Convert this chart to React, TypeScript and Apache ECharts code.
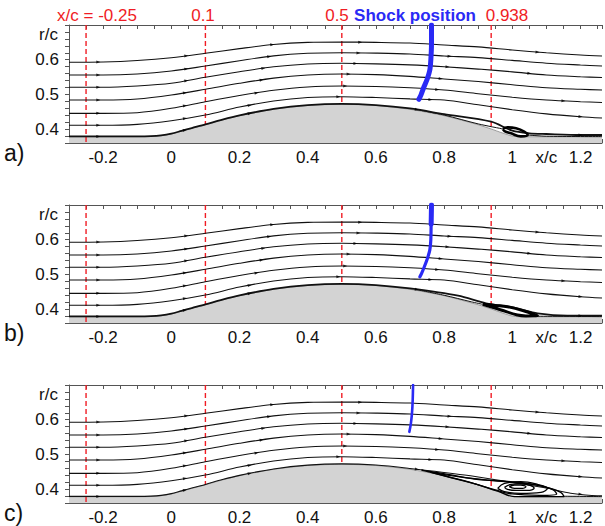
import React, { useEffect, useRef } from "react";
import * as echarts from "echarts";

const FONT = "'Liberation Sans', Arial, Helvetica, sans-serif";
const X_MIN = -0.3;
const X_MAX = 1.263;
const Y_MIN = 0.36;
const Y_MAX = 0.7;

// bump surface (x/c, r/c)
const wallX = [-0.3, -0.1, -0.06, -0.03, 0, 0.03, 0.06, 0.1, 0.15, 0.2, 0.3, 0.4, 0.5, 0.6, 0.7, 0.8, 0.9, 0.938, 0.97, 1.0, 1.02, 1.263];
const wallR = [0.378, 0.378, 0.3787, 0.381, 0.386, 0.394, 0.402, 0.4125, 0.4266, 0.4387, 0.4571, 0.4681, 0.4717, 0.4681, 0.4571, 0.4387, 0.4125, 0.4004, 0.3892, 0.38, 0.378, 0.378];

// outer streamlines (same in all three panels)
const streamX = [-0.3, -0.2, -0.1, 0, 0.1, 0.2, 0.3, 0.4, 0.5, 0.6, 0.7, 0.8, 0.9, 1.0, 1.1, 1.2, 1.263];
const stream1 = [0.5925, 0.5934, 0.5977, 0.6058, 0.6184, 0.632, 0.644, 0.65, 0.651, 0.65, 0.648, 0.6424, 0.637, 0.628, 0.62, 0.6135, 0.6107];
const stream2 = [0.5559, 0.5559, 0.5588, 0.5674, 0.5818, 0.597, 0.611, 0.6185, 0.6202, 0.619, 0.6165, 0.6107, 0.606, 0.598, 0.59, 0.5847, 0.5818];
const stream3 = [0.5205, 0.5205, 0.5242, 0.532, 0.5493, 0.5655, 0.5795, 0.5875, 0.5896, 0.588, 0.585, 0.5798, 0.573, 0.565, 0.556, 0.551, 0.5487];
const stream4 = [0.4839, 0.4839, 0.4867, 0.4983, 0.5147, 0.532, 0.547, 0.556, 0.5588, 0.557, 0.552, 0.5444, 0.537, 0.528, 0.519, 0.5147, 0.5127];
const stream5 = [0.4455, 0.4455, 0.4473, 0.4599, 0.479, 0.497, 0.512, 0.5215, 0.5242, 0.523, 0.519, 0.5127, 0.502, 0.492, 0.484, 0.479, 0.4767];
const stream6 = [0.411, 0.411, 0.4138, 0.4242, 0.4406, 0.4635, 0.481, 0.491, 0.4934, 0.491, 0.487, 0.4839, 0.47, 0.456, 0.444, 0.4357, 0.432];
const outerStreams = [stream1, stream2, stream3, stream4, stream5, stream6];
const outerMarks = [
  [-0.214, 0.044, 0.296, 0.554, 1.074],
  [-0.214, 0.044, 0.287, 0.549, 0.816],
  [-0.214, 0.044, 0.27, 0.54, 0.81, 1.05],
  [-0.214, 0.04, 0.265, 0.52, 0.79],
  [-0.214, 0.04, 0.25, 0.51, 0.78, 1.15],
  [-0.214, 0.04, 0.23, 0.49, 0.76, 1.2],
];

// near-wall streamline per panel
const line7X_A = [-0.3, -0.1, -0.06, -0.03, 0, 0.03, 0.06, 0.1, 0.15, 0.2, 0.3, 0.4, 0.5, 0.6, 0.7, 0.8, 0.938, 1.0, 1.05, 1.1, 1.2, 1.263];
const line7R_A = [0.379, 0.379, 0.3797, 0.382, 0.387, 0.395, 0.403, 0.4135, 0.4276, 0.4397, 0.4581, 0.4691, 0.4727, 0.4693, 0.4595, 0.443, 0.4213, 0.3954, 0.388, 0.3859, 0.383, 0.383];
const line7X_B = [-0.3, -0.1, -0.06, -0.03, 0, 0.03, 0.06, 0.1, 0.15, 0.2, 0.3, 0.4, 0.5, 0.6, 0.7, 0.841, 0.923, 1.006, 1.074, 1.161, 1.263];
const line7R_B = [0.379, 0.379, 0.3797, 0.382, 0.387, 0.395, 0.403, 0.4135, 0.4276, 0.4397, 0.4581, 0.4691, 0.4727, 0.4693, 0.4595, 0.4386, 0.4167, 0.404, 0.388, 0.381, 0.381];
const line7X_C = [-0.3, -0.1, -0.06, -0.03, 0, 0.03, 0.06, 0.1, 0.15, 0.2, 0.3, 0.4, 0.5, 0.6, 0.7, 0.86, 0.986, 1.103, 1.171, 1.249, 1.263];
const line7R_C = [0.379, 0.379, 0.3797, 0.382, 0.387, 0.395, 0.403, 0.4135, 0.4276, 0.4397, 0.4581, 0.4691, 0.4727, 0.4693, 0.4595, 0.4406, 0.4213, 0.4023, 0.388, 0.381, 0.381];
const line7Marks = [-0.214, 0.04, 0.23, 0.72, 1.2];

// lower near-wall lines
const lowA1 = [[0.72, 0.456], [0.8, 0.4405], [0.9, 0.415], [0.97, 0.401]];
const lowA2 = [[1.045, 0.383], [1.1, 0.3795], [1.263, 0.3785]];
const lowB1 = [[0.72, 0.456], [0.8, 0.44], [0.88, 0.421], [0.913, 0.4138]];
const lowB2 = [[1.074, 0.3795], [1.263, 0.3785]];
const lowC2 = [[1.152, 0.3795], [1.263, 0.3785]];

// separation bubbles
const bubbleA = [[0.972, 0.4003], [0.986, 0.4051], [1.011, 0.4022], [1.035, 0.3926], [1.045, 0.383], [1.025, 0.3791], [0.996, 0.3878], [0.977, 0.3945], [0.972, 0.4003]];
const bubbleB = [[0.913, 0.4138], [0.95, 0.4105], [0.986, 0.4069], [1.035, 0.3945], [1.074, 0.381], [1.04, 0.3805], [1.015, 0.383], [0.967, 0.3974], [0.913, 0.4138]];
const bubbleC1 = [[0.7335, 0.455], [0.811, 0.4427], [0.889, 0.4291], [0.957, 0.4233], [1.035, 0.4167], [1.093, 0.4069], [1.142, 0.3908], [1.152, 0.3781], [1.074, 0.3781], [1.006, 0.3785], [0.957, 0.394], [0.879, 0.419], [0.811, 0.436], [0.7335, 0.455]];
const bubbleC2 = [[0.76, 0.449], [0.85, 0.4345], [0.93, 0.426], [1.0, 0.421], [1.07, 0.412], [1.12, 0.398], [1.13, 0.386], [1.08, 0.382], [1.0, 0.386], [0.95, 0.398], [0.88, 0.418], [0.8, 0.438], [0.76, 0.449]];
const bubbleC3 = [[0.957, 0.4022], [0.977, 0.4166], [1.025, 0.4214], [1.074, 0.4137], [1.103, 0.4022], [1.084, 0.3907], [1.025, 0.3878], [0.977, 0.3926], [0.957, 0.4022]];
const bubbleC4 = [[0.977, 0.4051], [0.996, 0.4137], [1.025, 0.4157], [1.054, 0.4099], [1.064, 0.4022], [1.045, 0.3965], [1.011, 0.3965], [0.986, 0.3993], [0.977, 0.4051]];
const bubbleC5 = [[0.991, 0.407], [1.006, 0.4118], [1.025, 0.4118], [1.04, 0.407], [1.03, 0.4022], [1.006, 0.4022], [0.991, 0.407]];

// shock positions
const shockA = [[0.763, 0.7], [0.763, 0.647], [0.761, 0.599], [0.758, 0.57], [0.751, 0.546], [0.741, 0.522], [0.732, 0.498], [0.726, 0.486]];
const shockB1 = [[0.763, 0.7], [0.762, 0.645]];
const shockB2 = [[0.762, 0.66], [0.761, 0.599], [0.758, 0.57], [0.751, 0.546], [0.742, 0.522], [0.734, 0.503], [0.729, 0.493]];
const shockC = [[0.709, 0.7], [0.708, 0.66], [0.707, 0.637], [0.705, 0.61], [0.702, 0.585], [0.698, 0.565]];

// stations
const stationX = [-0.25, 0.1, 0.5, 0.938];
const stationLabels = ["x/c = -0.25", "0.1", "0.5", "0.938"];
const panelLetters = ["a)", "b)", "c)"];
const panelTitles = ["IDDES Grid 1", "IDDES Grid 2", "DNS"];

const GRID_LEFT = 69;
const GRID_TOPS = [25, 205, 385];
const GRID_H = 118;

function interp(xs: number[], ys: number[], x: number) {
  if (x <= xs[0]) return ys[0];
  for (let i = 1; i < xs.length; i++) {
    if (x <= xs[i]) {
      const t = (x - xs[i - 1]) / (xs[i] - xs[i - 1]);
      return ys[i - 1] + t * (ys[i] - ys[i - 1]);
    }
  }
  return ys[ys.length - 1];
}

function zip(xs: number[], ys: number[]) {
  return xs.map((x, i) => [x, ys[i]]);
}

function marks(xs: number[], ys: number[], at: number[]) {
  return at.map((x) => {
    const r = interp(xs, ys, x);
    const s = (interp(xs, ys, x + 0.01) - interp(xs, ys, x - 0.01)) / 0.02;
    const ang = (Math.atan((s * 347) / 343) * 180) / Math.PI;
    return { value: [x, r], symbolRotate: ang };
  });
}

function buildOption() {
  const grids: any[] = [];
  const xAxes: any[] = [];
  const yAxes: any[] = [];
  const series: any[] = [];
  const graphic: any[] = [];
  const axisColor = "#555";

  const panels = [
    { l7x: line7X_A, l7r: line7R_A, l7w: 1.8, lows: [lowA1, lowA2], loops: [{ d: bubbleA, w: 2.6 }], shocks: [{ d: shockA, w: 5 }] },
    { l7x: line7X_B, l7r: line7R_B, l7w: 1.8, lows: [lowB1, lowB2], loops: [{ d: bubbleB, w: 3 }], shocks: [{ d: shockB1, w: 5 }, { d: shockB2, w: 3.2 }] },
    { l7x: line7X_C, l7r: line7R_C, l7w: 1.1, lows: [lowC2], loops: [{ d: bubbleC1, w: 1.3 }, { d: bubbleC2, w: 1.3 }, { d: bubbleC3, w: 1.3 }, { d: bubbleC4, w: 1.3 }, { d: bubbleC5, w: 1.3 }], shocks: [{ d: shockC, w: 2.6 }] },
  ];

  panels.forEach((p, i) => {
    grids.push({ left: GRID_LEFT, right: 0, top: GRID_TOPS[i], height: GRID_H, containLabel: false });
    xAxes.push({
      type: "value", gridIndex: i, position: "bottom", min: X_MIN, max: X_MAX, interval: 0.05,
      axisLine: { show: true, onZero: false, lineStyle: { color: axisColor, width: 1 } },
      axisTick: { show: true, inside: true, length: 4, lineStyle: { color: axisColor } },
      splitLine: { show: false },
      axisLabel: {
        margin: 6, color: "#111", fontSize: 17, fontFamily: FONT,
        formatter: (v: number) => {
          const k = Math.round(v * 20);
          if (k === 22) return "x/c";
          if (k % 4 === 0 && k >= -4 && k <= 24) return String(Math.round(v * 10) / 10);
          return "";
        },
      },
    });
    xAxes.push({
      type: "value", gridIndex: i, position: "top", min: X_MIN, max: X_MAX, interval: 0.05,
      axisLine: { show: true, onZero: false, lineStyle: { color: axisColor, width: 1 } },
      axisTick: { show: true, inside: true, length: 4, lineStyle: { color: axisColor } },
      splitLine: { show: false },
      axisLabel: { show: false },
    });
    yAxes.push({
      type: "value", gridIndex: i, min: Y_MIN, max: Y_MAX, interval: 0.02,
      axisLine: { show: true, onZero: false, lineStyle: { color: axisColor, width: 1 } },
      axisTick: { show: true, inside: false, length: 4, lineStyle: { color: axisColor } },
      splitLine: { show: false },
      axisLabel: {
        margin: 10, color: "#111", fontSize: 17, fontFamily: FONT,
        formatter: (v: number) => {
          const k = Math.round(v * 50);
          if (k === 20) return "0.4";
          if (k === 25) return "0.5";
          if (k === 30) return "0.6";
          return "";
        },
      },
    });
    const xi = 2 * i;
    const base = { xAxisIndex: xi, yAxisIndex: i, symbol: "none", silent: true, animation: false };

    // surface (grey)
    series.push({
      ...base, type: "line", z: 1, data: zip(wallX, wallR), smooth: 0.2,
      lineStyle: { color: "#8a8a8a", width: 0.8 },
      areaStyle: { color: "#d3d3d3", opacity: 1, origin: "start" },
    });
    // red dashed stations
    stationX.forEach((sx, k) => {
      const rEnd = k === 0 ? Y_MIN : interp(wallX, wallR, sx);
      series.push({
        ...base, type: "line", z: 3, data: [[sx, Y_MAX], [sx, rEnd]],
        lineStyle: { color: "#f01c24", width: 1.4, type: [5, 3] },
      });
    });
    // outer streamlines
    outerStreams.forEach((s) => {
      series.push({ ...base, type: "line", z: 4, smooth: 0.3, data: zip(streamX, s), lineStyle: { color: "#111", width: 1.1 } });
    });
    // near-wall streamline
    series.push({ ...base, type: "line", z: 4, smooth: 0.3, data: zip(p.l7x, p.l7r), lineStyle: { color: "#111", width: p.l7w } });
    p.lows.forEach((d) => {
      series.push({ ...base, type: "line", z: 4, smooth: 0.3, data: d, lineStyle: { color: "#111", width: 1 } });
    });
    p.loops.forEach((l) => {
      series.push({ ...base, type: "line", z: 4, smooth: 0.4, data: l.d, lineStyle: { color: "#000", width: l.w } });
    });
    // arrow markers
    const mk: any[] = [];
    outerStreams.forEach((s, k) => mk.push(...marks(streamX, s, outerMarks[k])));
    mk.push(...marks(p.l7x, p.l7r, line7Marks));
    series.push({
      xAxisIndex: xi, yAxisIndex: i, type: "scatter", z: 5, silent: true,
      symbol: "path://M0,0L10,4L0,8Z", symbolSize: [4, 3], itemStyle: { color: "#000" }, data: mk,
    });
    // shock
    p.shocks.forEach((sh) => {
      series.push({ ...base, type: "line", z: 6, smooth: 0.3, data: sh.d, lineStyle: { color: "#2a2af5", width: sh.w, cap: "round" } });
    });

    // texts
    graphic.push({ type: "text", left: 4, top: GRID_TOPS[i] + 116, style: { text: panelLetters[i], font: `23px ${FONT}`, fill: "#111" } });
    graphic.push({ type: "text", x: 58, y: GRID_TOPS[i] + 9, style: { text: "r/c", font: `17px ${FONT}`, fill: "#111", align: "right", verticalAlign: "middle" } });
    graphic.push({ type: "text", x: i === 2 ? 348 : 351, y: GRID_TOPS[i] + 103, style: { text: panelTitles[i], font: `21px ${FONT}`, fill: "#111", align: "center", verticalAlign: "middle" } });
  });

  // top station labels
  const labelX = [97, 203, 337, 507];
  stationLabels.forEach((t, k) => {
    graphic.push({ type: "text", x: labelX[k], y: 15, style: { text: t, font: `17px ${FONT}`, fill: "#f01c24", align: "center", verticalAlign: "middle" } });
  });
  graphic.push({ type: "text", x: 415, y: 15, style: { text: "Shock position", font: `bold 17px ${FONT}`, fill: "#2a2af5", align: "center", verticalAlign: "middle" } });

  return { animation: false, backgroundColor: "#fff", grid: grids, xAxis: xAxes, yAxis: yAxes, series, graphic };
}

export default function App() {
  const ref = useRef<HTMLDivElement>(null);
  useEffect(() => {
    if (!ref.current) return;
    const chart = echarts.init(ref.current, undefined, { renderer: "svg" });
    chart.setOption(buildOption() as any);
    return () => chart.dispose();
  }, []);
  return <div ref={ref} style={{ position: "absolute", left: 0, top: 0, width: 605, height: 526 }} />;
}
